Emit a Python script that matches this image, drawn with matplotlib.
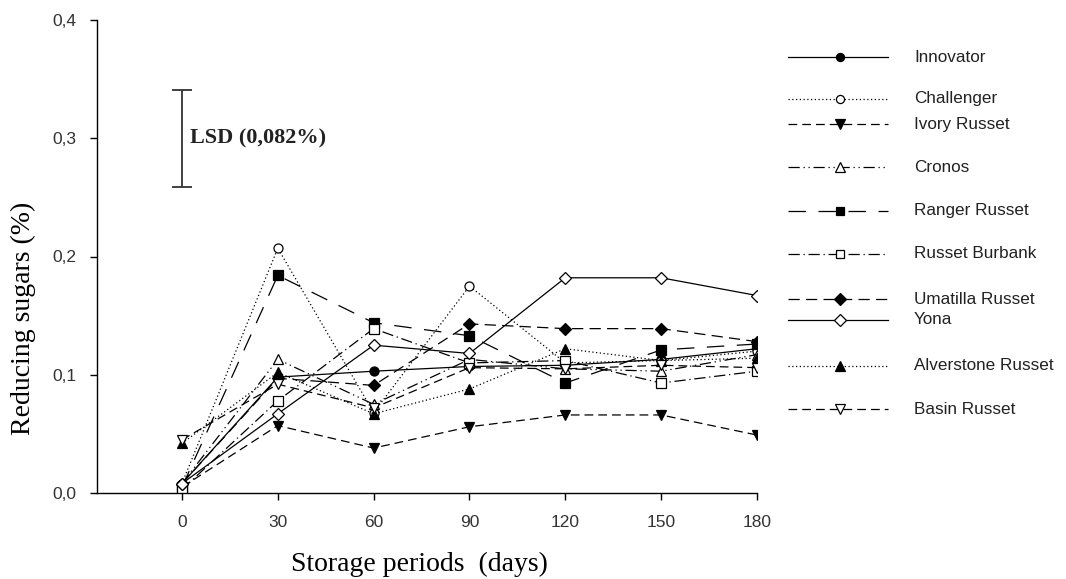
import matplotlib
matplotlib.use("Agg")
import matplotlib.pyplot as plt
from matplotlib.lines import Line2D

days = [0, 30, 60, 90, 120, 150, 180]
cultivars = ["Innovator", "Challenger", "Ivory Russet", "Cronos", "Ranger Russet",
             "Russet Burbank", "Umatilla Russet", "Yona", "Alverstone Russet", "Basin Russet"]
innovator = [0.008, 0.098, 0.103, 0.107, 0.108, 0.113, 0.122]
challenger = [0.008, 0.207, 0.068, 0.175, 0.110, 0.112, 0.120]
ivory = [0.005, 0.057, 0.038, 0.056, 0.066, 0.066, 0.049]
cronos = [0.008, 0.113, 0.075, 0.113, 0.105, 0.103, 0.117]
ranger = [0.005, 0.184, 0.144, 0.133, 0.093, 0.121, 0.126]
burbank = [0.003, 0.078, 0.139, 0.110, 0.112, 0.093, 0.103]
umatilla = [0.008, 0.097, 0.091, 0.143, 0.139, 0.139, 0.128]
yona = [0.008, 0.067, 0.125, 0.118, 0.182, 0.182, 0.167]
alverstone = [0.042, 0.102, 0.067, 0.088, 0.122, 0.112, 0.114]
basin = [0.045, 0.092, 0.072, 0.106, 0.105, 0.108, 0.106]
series = [innovator, challenger, ivory, cronos, ranger, burbank, umatilla, yona, alverstone, basin]
lsd_value = 0.082
lsd_center = 0.30
lsd_day = 0
x_ticks = [0, 30, 60, 90, 120, 150, 180]
y_ticks = [0.0, 0.1, 0.2, 0.3, 0.4]
y_ticklabels = ["0,0", "0,1", "0,2", "0,3", "0,4"]

# styles: (linestyle, marker, filled)
styles = [
    ("-", "o", True),
    ((0, (1, 2)), "o", False),
    ((0, (7, 4)), "v", True),
    ((0, (9, 3, 1, 3, 1, 3)), "^", False),
    ((0, (14, 10)), "s", True),
    ((0, (9, 3, 1, 3)), "s", False),
    ((0, (9, 5)), "D", True),
    ("-", "D", False),
    ((0, (1, 2)), "^", True),
    ((0, (7, 4)), "v", False),
]
msizes = {"o": 6.5, "v": 7.5, "^": 7.5, "s": 7, "D": 6.5}

fig = plt.figure(figsize=(10.66, 5.79), dpi=100)
ax = fig.add_axes([97/1066, 1 - 493/579, (757-97)/1066, (493-20)/579])

for vals, (ls, mk, filled) in zip(series, styles):
    ax.plot(days, vals, color="black", linestyle=ls, linewidth=0.9, marker=mk,
            markersize=msizes[mk], markerfacecolor="black" if filled else "white",
            markeredgecolor="black", markeredgewidth=0.9)

# LSD bar
ax.errorbar([lsd_day], [lsd_center], yerr=[lsd_value / 2], color="#333333",
            capsize=7, elinewidth=1.3, capthick=1.3, fmt="none")
ax.text(lsd_day + 2.5, lsd_center, "LSD (0,082%)", family="Liberation Serif",
        fontweight="bold", fontsize=16, va="center", ha="left", color="#222222")

ax.set_xlim(-26.6, 180)
ax.set_ylim(0, 0.4)
ax.set_xticks(x_ticks)
ax.set_yticks(y_ticks)
ax.set_yticklabels(y_ticklabels)
for s in ["top", "right"]:
    ax.spines[s].set_visible(False)
for s in ["left", "bottom"]:
    ax.spines[s].set_linewidth(1.0)
ax.tick_params(direction="out", length=5, width=1.0, labelsize=12.5,
               labelcolor="#333333")
ax.tick_params(axis="x", pad=11)
ax.tick_params(axis="y", pad=10)
for lab in ax.get_xticklabels() + ax.get_yticklabels():
    lab.set_family("Liberation Sans")
ax.set_xlabel("Storage periods  (days)", family="Liberation Serif", fontsize=20)
ax.set_ylabel("Reducing sugars (%)", family="Liberation Serif", fontsize=20)
ax.xaxis.set_label_coords(0.489, -0.124)
ax.yaxis.set_label_coords(-0.093, 0.37)

# manual legend with uneven spacing (layout positions in pixels)
legend_y_px = [57, 99, 124, 167, 211, 254, 299, 320, 366, 409]
lax = fig.add_axes([0, 0, 1, 1], facecolor="none")
lax.set_xlim(0, 1066)
lax.set_ylim(579, 0)
lax.axis("off")
for name, ypx, (ls, mk, filled) in zip(cultivars, legend_y_px, styles):
    lax.add_line(Line2D([788, 888], [ypx, ypx], color="black", linestyle=ls, linewidth=0.9))
    lax.add_line(Line2D([840], [ypx], marker=mk, markersize=msizes[mk] * 0.9,
                        markerfacecolor="black" if filled else "white",
                        markeredgecolor="black", markeredgewidth=0.9, linestyle="none"))
    lax.text(914, ypx, name, family="Liberation Sans", fontsize=12.3, va="center",
             ha="left", color="#222222")

fig.savefig("out.png", dpi=100)
